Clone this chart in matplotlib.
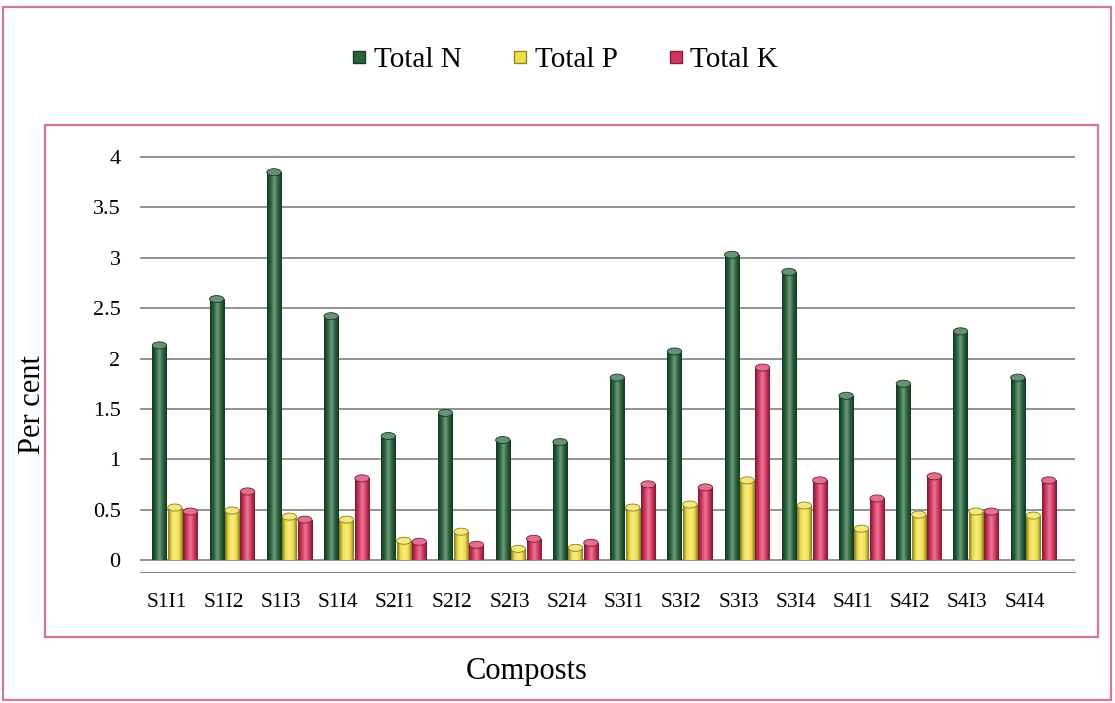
import numpy as np
import matplotlib
matplotlib.use('Agg')
import matplotlib.pyplot as plt
from matplotlib.colors import LinearSegmentedColormap, to_rgb
from matplotlib.patches import Rectangle, Ellipse
from matplotlib.lines import Line2D

plt.rcParams['font.family'] = ['Liberation Serif', 'DejaVu Serif']

composts = ['S1I1', 'S1I2', 'S1I3', 'S1I4', 'S2I1', 'S2I2', 'S2I3', 'S2I4',
            'S3I1', 'S3I2', 'S3I3', 'S3I4', 'S4I1', 'S4I2', 'S4I3', 'S4I4']
total_n = [2.13, 2.59, 3.85, 2.42, 1.23, 1.46, 1.19, 1.17,
           1.81, 2.07, 3.03, 2.86, 1.63, 1.75, 2.27, 1.81]
total_p = [0.52, 0.49, 0.43, 0.40, 0.19, 0.28, 0.11, 0.12,
           0.52, 0.55, 0.79, 0.54, 0.31, 0.45, 0.48, 0.44]
total_k = [0.48, 0.68, 0.40, 0.81, 0.18, 0.15, 0.21, 0.17,
           0.75, 0.72, 1.91, 0.79, 0.61, 0.83, 0.48, 0.79]
series = ['Total N', 'Total P', 'Total K']
colors = ['#27643a', '#f1e046', '#d8335f']
yticks = [0, 0.5, 1, 1.5, 2, 2.5, 3, 3.5, 4]

W, H = 1115, 703
fig = plt.figure(figsize=(W / 100, H / 100), dpi=100)
fig.patch.set_facecolor('white')

pink = '#d8749a'
# outer and inner frames
fig.add_artist(Rectangle((3 / W, 1 - 700 / H), 1108 / W, 693 / H, transform=fig.transFigure,
                         fill=False, edgecolor=pink, lw=1.6))
fig.add_artist(Rectangle((45 / W, 1 - 637 / H), 1053 / W, 512 / H, transform=fig.transFigure,
                         fill=False, edgecolor=pink, lw=1.6))

ax = fig.add_axes([140 / W, 1 - 575 / H, 935 / W, 435 / H])
ax.set_facecolor('none')
for s in ['top', 'right', 'left']:
    ax.spines[s].set_visible(False)
ax.spines['bottom'].set_color('#8a8a8a')
ax.spines['bottom'].set_position(('data', -0.12))

x = np.arange(len(composts))
width = 0.25
offs = [-0.27, 0, 0.27]

for v in yticks:
    ax.axhline(v, color='#8a8a8a', lw=1.3, zorder=0)

cap_h = 0.07
for vals, off, c in zip([total_n, total_p, total_k], offs, colors):
    base = np.array(to_rgb(c))
    dark = base * 0.55
    light = np.clip(base + (1 - base) * 0.35, 0, 1)
    cmap = LinearSegmentedColormap.from_list('cyl', [dark, base, light, base, dark])
    bars = ax.bar(x + off, vals, width, color=c, zorder=2)
    grad = np.linspace(0, 1, 64).reshape(1, -1)
    for b in bars:
        x0, w, h = b.get_x(), b.get_width(), b.get_height()
        im = ax.imshow(grad, cmap=cmap, extent=[x0, x0 + w, 0, h], aspect='auto',
                       zorder=3, origin='lower')
        im.set_clip_path(b)
        ax.add_patch(Ellipse((x0 + w / 2, h), w, cap_h, facecolor=light * 0.85 + base * 0.15,
                             edgecolor=dark, lw=0.6, zorder=4))

ax.set_xlim(-0.61, 15.73)
ax.set_ylim(-0.15, 4.17)
ax.set_xticks(x - 0.15)
ax.set_xticklabels(composts)
ax.set_yticks(yticks)
ax.set_yticklabels(['0', '0.5', '1', '1.5', '2', '2.5', '3', '3.5', '4'])
ax.tick_params(axis='x', length=0, pad=15, labelsize=15.5)
ax.tick_params(axis='y', length=0, pad=14, labelsize=16)

fig.text(33 / W, 1 - 405 / H, 'Per cent', rotation=90, ha='center', va='center', fontsize=22)
fig.text(527 / W, 1 - 672 / H, 'Composts', ha='center', va='center', fontsize=22)

handles = [Line2D([], [], marker='s', ls='none', markersize=9, markerfacecolor=c,
                  markeredgecolor=np.array(to_rgb(c)) * 0.6) for c in colors]
fig.legend(handles, series, loc='center', bbox_to_anchor=(563 / W, 1 - 60 / H), ncol=3,
           frameon=False, fontsize=21, handletextpad=0.1, columnspacing=1.6, handlelength=0.8)

fig.savefig('out.png', dpi=100)
